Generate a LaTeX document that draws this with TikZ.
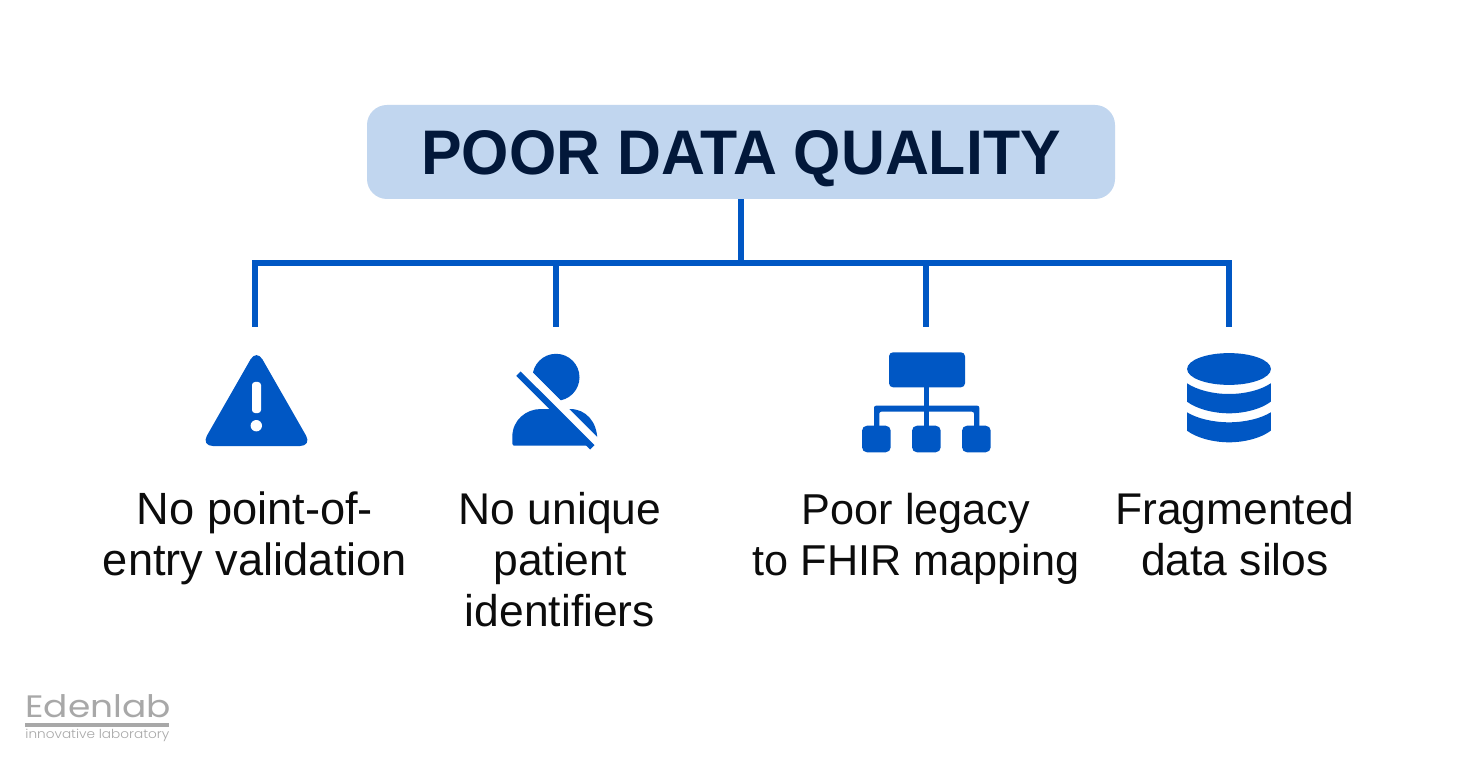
\documentclass[tikz,border=0pt]{standalone}
\usepackage{fontspec}
\setmainfont{Liberation Sans}
\newfontfamily\logofont{Poppins}[FakeStretch=1.16]
\newfontfamily\tagfont{Poppins}[UprightFont={* Light},FakeStretch=1.1]
\newfontfamily\titlefont{Liberation Sans}[FakeStretch=0.965]
\definecolor{brandblue}{HTML}{0057C4}
\definecolor{boxblue}{HTML}{C1D6EF}
\definecolor{titleink}{HTML}{02183A}
\definecolor{bodyink}{HTML}{0C0C0C}
\definecolor{logogrey}{HTML}{A8A8A8}
\tikzset{
  titlebox/.style={fill=boxblue,rounded corners=10pt,minimum width=374pt,minimum height=47pt,text height=22.5pt,text depth=0pt,inner sep=0pt,
    text=titleink,font=\titlefont\fontsize{31.5}{36}\selectfont\bfseries},
  link/.style={draw=brandblue,line width=3pt},
  caption/.style={align=center,text=bodyink,inner sep=0pt,anchor=base,font=\fontsize{22.2}{25.5}\selectfont},
  logotext/.style={inner sep=0pt,anchor=base west,text=logogrey},
  icon/.style={fill=brandblue,draw=none},
  knock/.style={fill=white,draw=none}
}
\begin{document}
\begin{tikzpicture}[x=0.5pt,y=-0.5pt]
\useasboundingbox (0,0) rectangle (1484,775);
\fill[white] (0,0) rectangle (1484,775);
% title
\node[titlebox] (title) at (741,152) {POOR DATA QUALITY};
% connectors
\coordinate (hub) at (741,263);
\coordinate (barL) at (255,263);
\coordinate (barB) at (556,263);
\coordinate (barC) at (926,263);
\coordinate (barR) at (1229,263);
\coordinate (endA) at (255,327);
\coordinate (endB) at (556,327);
\coordinate (endC) at (926,327);
\coordinate (endD) at (1229,327);
\draw[link] (title.south) -- (hub);
\draw[link,line cap=rect] (barL) -- (barR);
\draw[link] (barL) -- (endA);
\draw[link] (barB) -- (endB);
\draw[link] (barC) -- (endC);
\draw[link] (barR) -- (endD);
% warning icon
\fill[icon,rounded corners=6pt] (256.5,349) -- (312,446) -- (201,446) -- cycle;
\fill[knock,rounded corners=1.5pt] (252,413) -- (252,382) -- (261,382) -- (261,413) -- cycle;
\fill[knock] (256.3,425.7) circle[radius=5.7];
% person icon
\begin{scope}
  \clip (500,340) -- (640,480) -- (640,330) -- cycle;
  \fill[icon] (556,377.3) circle[radius=23.5];
\end{scope}
\fill[icon] (514,445.7) .. controls (512.5,445.7) and (512.3,444) .. (512.3,442) -- (512.3,437)
  .. controls (512.3,420) and (526,409) .. (541,409) -- (570,409)
  .. controls (586,409) and (597.3,422) .. (597.3,440) -- (597.3,445.7) -- cycle;
\fill[knock] (530,370) -- (610,450) -- (600,455.2) -- (520,375.2) -- cycle;
\fill[icon] (520.7,371.5) -- (594.5,445.1) -- (590.1,449.5) -- (516.3,375.9) -- cycle;
% hierarchy icon
\fill[icon,rounded corners=2pt] (889,352.3) rectangle (965,387.3);
\fill[icon] (924,386) rectangle (929.3,428);
\fill[icon,rounded corners=1pt] (874,428) -- (874,405.7) -- (979.3,405.7) -- (979.3,428) -- (974,428) -- (974,411.7) -- (879.3,411.7) -- (879.3,428) -- cycle;
\fill[icon,rounded corners=2.5pt] (862,425.7) rectangle (890.7,452.3);
\fill[icon,rounded corners=2.5pt] (912,425.7) rectangle (940.7,452.3);
\fill[icon,rounded corners=2.5pt] (962,425.7) rectangle (990.7,452.3);
% database icon
\fill[icon] (1229,369) ellipse[x radius=41.9,y radius=15.9];
\fill[icon] (1187,383.3) .. controls (1197,390) and (1213,394) .. (1229,394)
  .. controls (1245,394) and (1261,390) .. (1270.8,383.3) -- (1270.8,401.7)
  .. controls (1261,409) and (1245,413.3) .. (1229,413.3)
  .. controls (1213,413.3) and (1197,409) .. (1187,401.7) -- cycle;
\fill[icon] (1187,412.3) .. controls (1197,418.5) and (1213,422.3) .. (1229,422.3)
  .. controls (1245,422.3) and (1261,418.5) .. (1270.8,412.3) -- (1270.8,430.7)
  .. controls (1261,438) and (1245,442.3) .. (1229,442.3)
  .. controls (1213,442.3) and (1197,438) .. (1187,430.7) -- cycle;
% captions
\node[caption,font=\fontsize{22.6}{25.5}\selectfont] (capA) at (255,575) {No point-of-\\entry validation};
\node[caption] (capB) at (560,626) {No unique\\patient\\identifiers};
\node[caption,font=\fontsize{21.6}{25.5}\selectfont] (capC) at (916,575) {Poor legacy\\to FHIR mapping};
\node[caption] (capD) at (1235,575) {Fragmented\\data silos};
% logo
\node[logotext,font=\logofont\fontsize{15.5}{18}\selectfont] (logoname) at (25,717) {Edenlab};
\fill[logogrey] (25,723) rectangle (169,727);
\node[logotext,font=\tagfont\fontsize{6.2}{8}\selectfont] (logotag) at (25,738) {innovative laboratory};
\end{tikzpicture}
\end{document}
